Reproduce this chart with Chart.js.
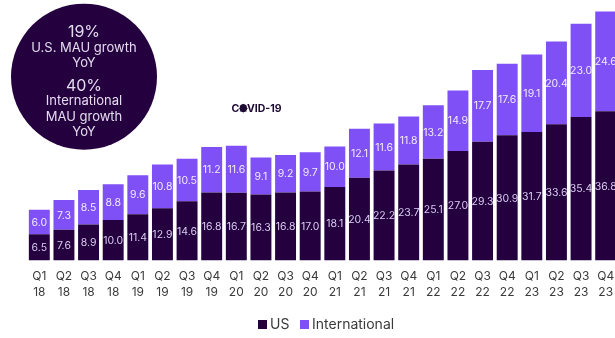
<!DOCTYPE html>
<html>
<head>
<meta charset="utf-8">
<script src="https://cdn.jsdelivr.net/npm/chart.js@4"></script>
<style>
  html, body { margin: 0; padding: 0; background: #fff; overflow: hidden; }
  #wrap { position: relative; width: 615px; height: 338px; overflow: hidden; }
  canvas { position: absolute; left: 0; top: 0; }
</style>
</head>
<body>
<div id="wrap"><canvas id="c" width="640" height="338"></canvas></div>
<script>
const quarters = ["Q1","Q2","Q3","Q4","Q1","Q2","Q3","Q4","Q1","Q2","Q3","Q4","Q1","Q2","Q3","Q4","Q1","Q2","Q3","Q4","Q1","Q2","Q3","Q4"];
const years = ["18","18","18","18","19","19","19","19","20","20","20","20","21","21","21","21","22","22","22","22","23","23","23","23"];
const usValues = [6.5,7.6,8.9,10.0,11.4,12.9,14.6,16.8,16.7,16.3,16.8,17.0,18.1,20.4,22.2,23.7,25.1,27.0,29.3,30.9,31.7,33.6,35.4,36.8];
const intlValues = [6.0,7.3,8.5,8.8,9.6,10.8,10.5,11.2,11.6,9.1,9.2,9.7,10.0,12.1,11.6,11.8,13.2,14.9,17.7,17.6,19.1,20.4,23.0,24.6];
const seriesNames = ["US","International"];
const calloutLines = [
  ["19%", 16], ["U.S. MAU growth", 13], ["YoY", 13],
  ["40%", 16], ["International", 13], ["MAU growth", 13], ["YoY", 13]
];
const calloutY = [32, 48, 63, 86, 101, 117, 132];
const FONT = "Inter, sans-serif";
const DARK = "#24003f";
const PURPLE = "#7f50f5";

// Writes each value in the middle of its bar segment.
const valueLabels = {
  id: "valueLabels",
  afterDatasetsDraw(chart) {
    const ctx = chart.ctx;
    ctx.save();
    ctx.font = "10.5px " + FONT;
    ctx.textAlign = "center";
    ctx.textBaseline = "middle";
    chart.data.datasets.forEach((ds, i) => {
      ctx.fillStyle = i === 0 ? "#d9cdf0" : "#f0eaff";
      chart.getDatasetMeta(i).data.forEach((bar, j) => {
        const p = bar.getProps(["x", "y", "base"], true);
        ctx.fillText(ds.data[j].toFixed(1), p.x, (p.y + p.base) / 2 + 0.5);
      });
    });
    ctx.restore();
  }
};

// Series key under the axis: small squares with a tight gap before each name.
const seriesKey = {
  id: "seriesKey",
  afterDraw(chart) {
    const ctx = chart.ctx;
    const boxX = [258, 300];
    const textX = [270, 312];
    ctx.save();
    ctx.font = "14px " + FONT;
    ctx.textAlign = "left";
    ctx.textBaseline = "middle";
    chart.data.datasets.forEach((ds, i) => {
      ctx.fillStyle = ds.backgroundColor;
      ctx.fillRect(boxX[i], 320, 9, 9);
      ctx.fillStyle = "#3a3a3a";
      ctx.fillText(ds.label, textX[i], 324.5);
    });
    ctx.restore();
  }
};

// Growth callout disc and the COVID-19 marker above the chart.
const annotations = {
  id: "annotations",
  afterDraw(chart) {
    const ctx = chart.ctx;
    ctx.save();
    ctx.fillStyle = DARK;
    ctx.beginPath();
    ctx.arc(84, 76.7, 73, 0, Math.PI * 2);
    ctx.fill();
    ctx.textAlign = "center";
    ctx.textBaseline = "middle";
    ctx.fillStyle = "#e3dbee";
    calloutLines.forEach((line, i) => {
      ctx.font = line[1] + "px " + FONT;
      ctx.fillText(line[0], 84, calloutY[i]);
    });

    // The O of the marker is a filled virus disc with short spikes.
    ctx.font = "bold 10.5px " + FONT;
    ctx.fillStyle = "#1d0a33";
    ctx.strokeStyle = "#1d0a33";
    ctx.fillText("COVID-19", 256.5, 108.5);
    const total = ctx.measureText("COVID-19").width;
    const left = 256.5 - total / 2;
    const c = ctx.measureText("C").width;
    const o = ctx.measureText("O").width;
    const cx = left + c + o / 2;
    ctx.beginPath();
    ctx.arc(cx, 108.5, 3.6, 0, Math.PI * 2);
    ctx.fill();
    ctx.lineWidth = 0.5;
    for (let a = 0; a < 8; a++) {
      const t = a * Math.PI / 4;
      ctx.beginPath();
      ctx.moveTo(cx + Math.cos(t) * 3.4, 108.5 + Math.sin(t) * 3.4);
      ctx.lineTo(cx + Math.cos(t) * 4.7, 108.5 + Math.sin(t) * 4.7);
      ctx.stroke();
    }
    ctx.restore();
  }
};

new Chart(document.getElementById("c"), {
  type: "bar",
  data: {
    labels: quarters.map((q, i) => [q, years[i]]),
    datasets: [
      { label: seriesNames[0], data: usValues, backgroundColor: DARK },
      { label: seriesNames[1], data: intlValues, backgroundColor: PURPLE }
    ]
  },
  plugins: [valueLabels, seriesKey, annotations],
  options: {
    responsive: false,
    animation: false,
    layout: { padding: { top: 1, left: 27, right: 22, bottom: 0 } },
    datasets: { bar: { categoryPercentage: 1, barPercentage: 0.85 } },
    scales: {
      x: {
        stacked: true,
        grid: { display: false, drawTicks: false },
        border: { display: false },
        afterFit(scale) { scale.height = 77.5; },
        ticks: {
          color: "#3a3a3a",
          font: { family: FONT, size: 12, lineHeight: 1.33 },
          maxRotation: 0,
          autoSkip: false,
          padding: 7.5
        }
      },
      y: { stacked: true, min: 0, max: 64, display: false }
    },
    plugins: {
      tooltip: { enabled: false },
      legend: { display: false }
    }
  }
});
</script>
</body>
</html>
